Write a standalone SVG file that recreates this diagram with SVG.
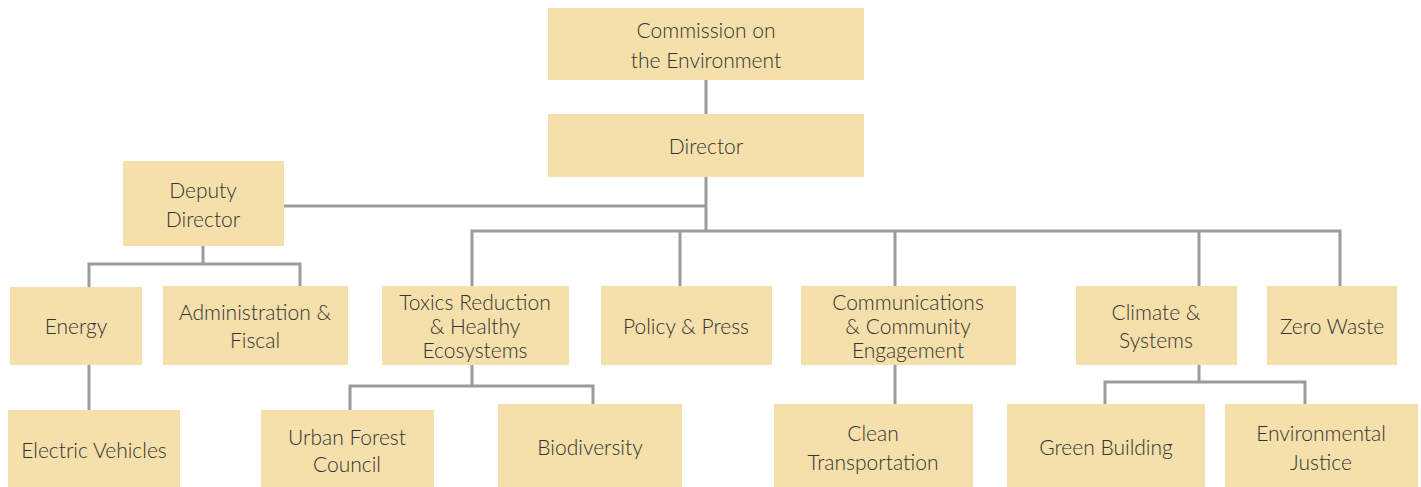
<svg xmlns="http://www.w3.org/2000/svg" width="1421" height="487" viewBox="0 0 1421 487">
<style>
.box{fill:#F5DFAA}
.t{font-family:Lato,"Open Sans",sans-serif;font-weight:300;font-size:21px;fill:#333;text-anchor:middle}
.c{fill:none;stroke:#9B9B9E;stroke-width:3}
</style>
<rect width="1421" height="487" fill="#fff"/>
<g id="connectors">
<path class="c" d="M706 80V114"/>
<path class="c" d="M706 177V231"/>
<path class="c" d="M284 206H706"/>
<path class="c" d="M472 286V231H1340V286"/>
<path class="c" d="M680 231V286"/>
<path class="c" d="M895 231V286"/>
<path class="c" d="M1199 231V286"/>
<path class="c" d="M203 246V264"/>
<path class="c" d="M89 287V264H300V286"/>
<path class="c" d="M89 365V410"/>
<path class="c" d="M472 365V386"/>
<path class="c" d="M350 410V386H593V404"/>
<path class="c" d="M895 365V404"/>
<path class="c" d="M1199 365V382"/>
<path class="c" d="M1105 404V382H1305V404"/>
</g>
<g id="commission"><rect class="box" x="548" y="8" width="316" height="72"/><text class="t" x="706" y="38">Commission on</text><text class="t" x="706" y="68">the Environment</text></g>
<g id="director"><rect class="box" x="548" y="114" width="316" height="63"/><text class="t" x="706" y="154">Director</text></g>
<g id="deputy"><rect class="box" x="123" y="161" width="161" height="85"/><text class="t" x="203" y="198">Deputy</text><text class="t" x="203" y="227">Director</text></g>
<g id="energy"><rect class="box" x="10" y="287" width="132" height="78"/><text class="t" x="76" y="334">Energy</text></g>
<g id="admin"><rect class="box" x="163" y="286" width="185" height="79"/><text class="t" x="255" y="320">Administration &amp;</text><text class="t" x="255" y="348">Fiscal</text></g>
<g id="toxics"><rect class="box" x="382" y="286" width="187" height="79"/><text class="t" x="475" y="310">Toxics Reduction</text><text class="t" x="475" y="334">&amp; Healthy</text><text class="t" x="475" y="358">Ecosystems</text></g>
<g id="policy"><rect class="box" x="601" y="286" width="171" height="79"/><text class="t" x="686" y="334">Policy &amp; Press</text></g>
<g id="communications"><rect class="box" x="801" y="286" width="215" height="79"/><text class="t" x="908" y="310">Communications</text><text class="t" x="908" y="334">&amp; Community</text><text class="t" x="908" y="358">Engagement</text></g>
<g id="climate"><rect class="box" x="1076" y="286" width="161" height="79"/><text class="t" x="1156" y="320">Climate &amp;</text><text class="t" x="1156" y="348">Systems</text></g>
<g id="zerowaste"><rect class="box" x="1267" y="286" width="130" height="79"/><text class="t" x="1332" y="334">Zero Waste</text></g>
<g id="ev"><rect class="box" x="8" y="410" width="172" height="77"/><text class="t" x="94" y="458">Electric Vehicles</text></g>
<g id="urbanforest"><rect class="box" x="261" y="410" width="173" height="77"/><text class="t" x="347" y="445">Urban Forest</text><text class="t" x="347" y="472">Council</text></g>
<g id="biodiversity"><rect class="box" x="498" y="404" width="184" height="83"/><text class="t" x="590" y="455">Biodiversity</text></g>
<g id="cleantransport"><rect class="box" x="774" y="404" width="199" height="83"/><text class="t" x="873" y="441">Clean</text><text class="t" x="873" y="470">Transportation</text></g>
<g id="greenbuilding"><rect class="box" x="1007" y="404" width="198" height="83"/><text class="t" x="1106" y="455">Green Building</text></g>
<g id="envjustice"><rect class="box" x="1225" y="404" width="193" height="83"/><text class="t" x="1321" y="441">Environmental</text><text class="t" x="1321" y="470">Justice</text></g>
</svg>
